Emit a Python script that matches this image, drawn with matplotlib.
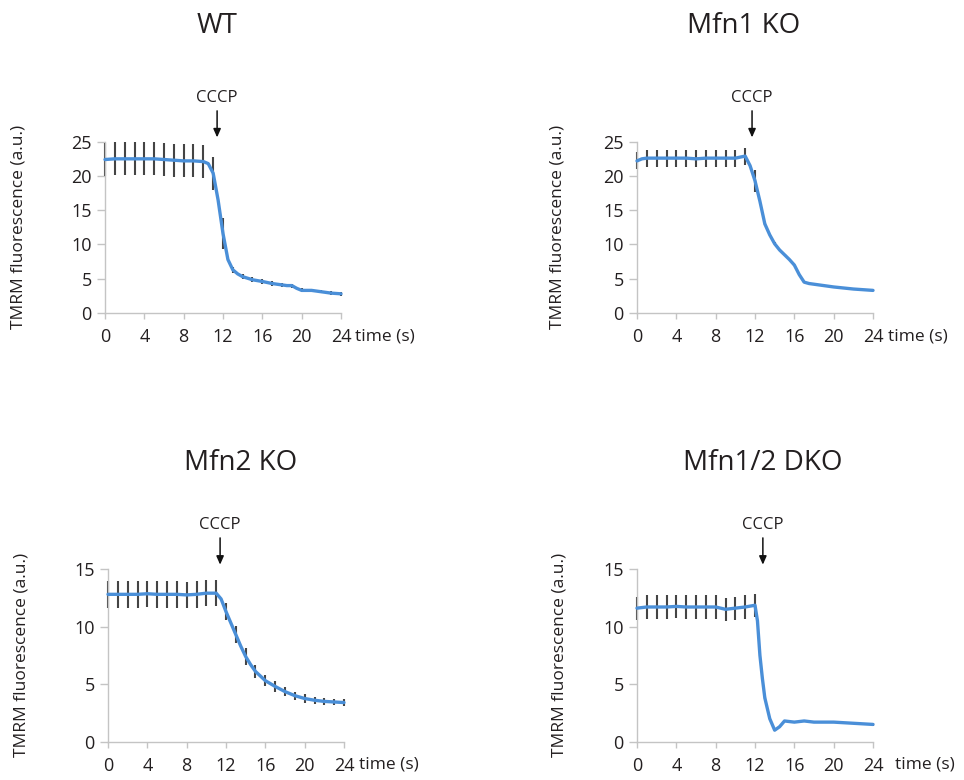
import numpy as np
import matplotlib
matplotlib.use("Agg")
import matplotlib.pyplot as plt
from matplotlib.transforms import blended_transform_factory

plt.rcParams['font.family'] = ['Open Sans', 'DejaVu Sans']

# ---------------- data ----------------
titles = ["WT", "Mfn1 KO", "Mfn2 KO", "Mfn1/2 DKO"]
ylims = [25, 25, 15, 15]
yticks_top = [0, 5, 10, 15, 20, 25]
yticks_bot = [0, 5, 10, 15]
xticks = [0, 4, 8, 12, 16, 20, 24]
cccp_x = [11.4, 11.7, 11.4, 12.8]

wt_t = [0, 1, 2, 3, 4, 5, 6, 7, 8, 9, 10, 10.5, 11, 11.5, 12, 12.5, 13, 13.5,
        14, 15, 16, 17, 18, 18.5, 19, 19.5, 20, 21, 22, 23, 24]
wt_y = [22.4, 22.5, 22.5, 22.5, 22.5, 22.5, 22.4, 22.3, 22.2, 22.2, 22.1, 21.8,
        20.4, 16.5, 11.6, 7.8, 6.3, 5.7, 5.3, 4.85, 4.6, 4.3, 4.1, 4.0, 4.0, 3.6,
        3.3, 3.3, 3.1, 2.9, 2.8]
wt_err = [2.4, 2.4, 2.4, 2.4, 2.4, 2.4, 2.4, 2.4, 2.4, 2.4, 2.4, 2.4, 2.2,
          0.45, 0.4, 0.35, 0.35, 0.3, 0.3, 0.3, 0.3, 0.25, 0.25, 0.25, 0.25]

ko1_t = [0, 0.5, 1, 2, 3, 4, 5, 6, 7, 8, 9, 10, 11, 11.5, 12, 12.5, 13, 13.5,
         14, 14.5, 15, 15.5, 16, 16.5, 17, 17.5, 18, 20, 22, 24]
ko1_y = [22.2, 22.5, 22.6, 22.6, 22.6, 22.6, 22.6, 22.5, 22.6, 22.6, 22.6, 22.6,
         22.9, 21.5, 19.3, 16.3, 13.0, 11.4, 10.1, 9.2, 8.5, 7.8, 7.0, 5.6, 4.5,
         4.3, 4.2, 3.8, 3.5, 3.3]
ko1_err = [1.25, 1.25, 1.25, 1.25, 1.25, 1.25, 1.25, 1.25, 1.25, 1.25, 1.25,
           1.25, 1.6, 0.2, 0.2, 0.15, 0.15, 0.1, 0.1, 0.1, 0.1, 0.1, 0.1, 0.1, 0.1]

ko2_t = [0, 1, 2, 3, 4, 5, 6, 7, 8, 9, 10, 11, 11.5, 12, 12.5, 13, 13.5, 14,
         14.5, 15, 15.5, 16, 17, 18, 19, 20, 21, 22, 23, 24]
ko2_y = [12.8, 12.8, 12.8, 12.8, 12.85, 12.8, 12.8, 12.8, 12.75, 12.8, 12.9,
         12.9, 12.4, 11.3, 10.3, 9.3, 8.3, 7.4, 6.7, 6.1, 5.7, 5.3, 4.8, 4.35,
         4.0, 3.75, 3.6, 3.5, 3.45, 3.4]
ko2_err = [1.15, 1.15, 1.15, 1.15, 1.15, 1.15, 1.15, 1.15, 1.15, 1.15, 1.15,
           1.15, 0.75, 0.75, 0.75, 0.55, 0.5, 0.5, 0.4, 0.35, 0.35, 0.3, 0.3,
           0.3, 0.3]

dko_t = [0, 1, 2, 3, 4, 5, 6, 7, 8, 9, 10, 11, 12, 12.25, 12.5, 12.75, 13,
         13.5, 14, 14.5, 15, 16, 17, 18, 19, 20, 21, 22, 23, 24]
dko_y = [11.6, 11.7, 11.7, 11.7, 11.75, 11.7, 11.7, 11.7, 11.7, 11.5, 11.6,
         11.7, 11.85, 10.5, 7.5, 5.5, 3.8, 2.0, 1.0, 1.3, 1.8, 1.7, 1.8, 1.7,
         1.7, 1.7, 1.65, 1.6, 1.55, 1.5]
dko_err = [1.0, 1.0, 1.0, 1.0, 1.0, 1.0, 1.0, 1.0, 1.0, 1.0, 1.0, 1.0, 1.0,
           0.1, 0.1, 0.1, 0.1, 0.1, 0.1, 0.1, 0.1, 0.1, 0.1, 0.1, 0.1]

series = [(wt_t, wt_y, wt_err), (ko1_t, ko1_y, ko1_err),
          (ko2_t, ko2_y, ko2_err), (dko_t, dko_y, dko_err)]

# ---------------- layout ----------------
W, H = 964, 780
fig = plt.figure(figsize=(W / 100, H / 100), dpi=100)

# axes boxes in pixels: left, top, right, bottom
boxes = [(105, 141.7, 341, 313), (637, 141.7, 873, 313),
         (108, 569, 344, 741.7), (637, 569, 873, 741.7)]
title_pos = [(217, 33), (744, 33), (241, 470), (763, 470)]
ylabel_x = [19, 558, 22, 559]
time_x = [1.059, 1.064, 1.062, 1.093]

blue = '#4a8fd8'
spine_c = '#c4c4c4'
txt_c = '#231f20'

for i in range(4):
    l, t, r, b = boxes[i]
    ax = fig.add_axes([l / W, 1 - b / H, (r - l) / W, (b - t) / H])
    tt, yy, ee = series[i]
    tt = np.array(tt, dtype=float)
    yy = np.array(yy, dtype=float)
    ee = np.array(ee, dtype=float)
    ti = np.arange(len(ee))
    ci = np.interp(ti, tt, yy)
    ax.vlines(ti, ci - ee, ci + ee, color='#444444', lw=1.5, zorder=2,
              clip_on=False)
    ax.plot(tt, yy, color=blue, lw=2.4, zorder=3, clip_on=False,
            solid_capstyle='round')

    ax.set_xlim(0, 24)
    ax.set_ylim(0, ylims[i])
    ax.set_xticks(xticks)
    ax.set_yticks(yticks_top if ylims[i] == 25 else yticks_bot)
    for s in ['top', 'right']:
        ax.spines[s].set_visible(False)
    for s in ['left', 'bottom']:
        ax.spines[s].set_color(spine_c)
        ax.spines[s].set_linewidth(1.0)
    ax.tick_params(axis='y', length=6, width=1.0, color=spine_c, pad=3.5,
                   labelsize=13, labelcolor=txt_c)
    ax.tick_params(axis='x', length=4, width=1.0, color=spine_c, pad=7,
                   labelsize=13, labelcolor=txt_c)
    ax.set_facecolor('none')

    # time label
    ax.annotate('time (s)', xy=(time_x[i], 0), xycoords='axes fraction',
                xytext=(0, -11), textcoords='offset points',
                ha='left', va='top', fontsize=12.5, color=txt_c)

    # CCCP arrow
    trans = blended_transform_factory(ax.transData, ax.transAxes)
    ax.annotate('', xy=(cccp_x[i], 1.025), xycoords=trans,
                xytext=(cccp_x[i], 1.18), textcoords=trans,
                arrowprops=dict(arrowstyle='-|>,head_length=0.5,head_width=0.22',
                                color='#111111', lw=1.1, shrinkA=0, shrinkB=0))
    ax.text(cccp_x[i], 1.255, 'CCCP', transform=trans, ha='center',
            va='center', fontsize=12, color=txt_c)

    # title
    tx, ty = title_pos[i]
    fig.text(tx / W, 1 - ty / H, titles[i], ha='center', va='baseline',
             fontsize=20, color=txt_c)
    # y label
    fig.text(ylabel_x[i] / W, 1 - ((t + b) / 2) / H,
             'TMRM fluorescence (a.u.)', rotation=90, ha='center',
             va='center', fontsize=12.5, color=txt_c)

fig.savefig('out.png', dpi=100)
